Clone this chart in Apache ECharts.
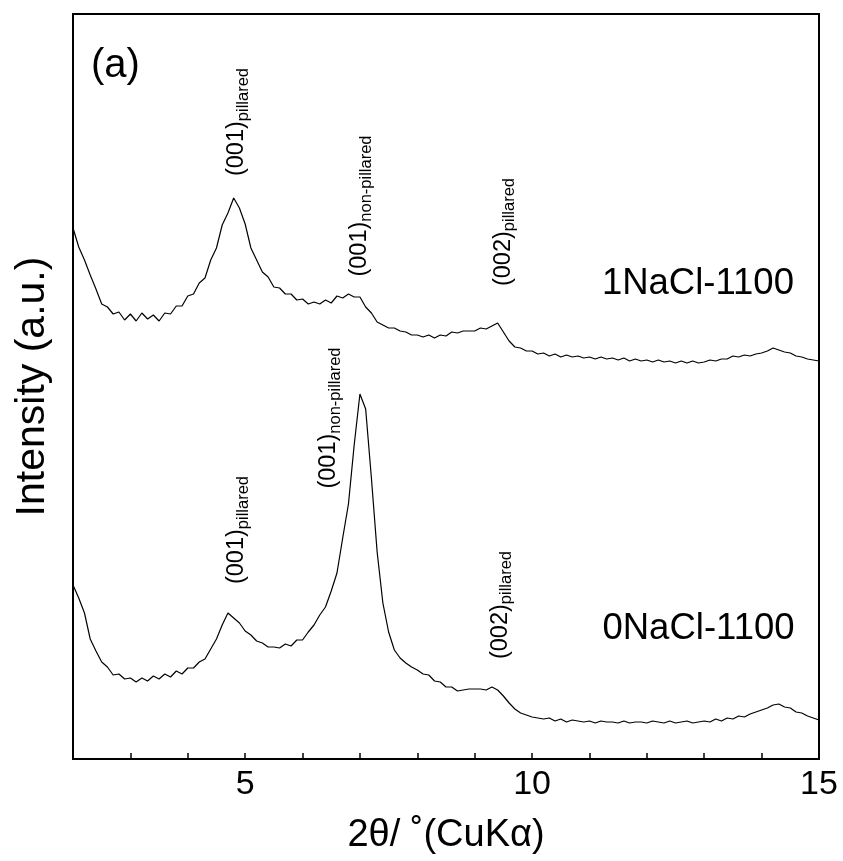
<!DOCTYPE html>
<html>
<head>
<meta charset="utf-8">
<script src="https://cdn.jsdelivr.net/npm/echarts@6/dist/echarts.min.js"></script>
<style>html,body{margin:0;padding:0;background:#fff}#chart{width:843px;height:861px}</style>
</head>
<body>
<div id="chart"></div>
<script>
// 2θ (degrees)
const twoTheta = [
  2.0,2.1,2.2,2.3,2.4,2.5,2.6,2.7,2.8,2.9,
  3.0,3.1,3.2,3.3,3.4,3.5,3.6,3.7,3.8,3.9,
  4.0,4.1,4.2,4.3,4.4,4.5,4.6,4.7,4.8,4.9,
  5.0,5.1,5.2,5.3,5.4,5.5,5.6,5.7,5.8,5.9,
  6.0,6.1,6.2,6.3,6.4,6.5,6.6,6.7,6.8,6.9,
  7.0,7.1,7.2,7.3,7.4,7.5,7.6,7.7,7.8,7.9,
  8.0,8.1,8.2,8.3,8.4,8.5,8.6,8.7,8.8,8.9,
  9.0,9.1,9.2,9.3,9.4,9.5,9.6,9.7,9.8,9.9,
  10.0,10.1,10.2,10.3,10.4,10.5,10.6,10.7,10.8,10.9,
  11.0,11.1,11.2,11.3,11.4,11.5,11.6,11.7,11.8,11.9,
  12.0,12.1,12.2,12.3,12.4,12.5,12.6,12.7,12.8,12.9,
  13.0,13.1,13.2,13.3,13.4,13.5,13.6,13.7,13.8,13.9,
  14.0,14.1,14.2,14.3,14.4,14.5,14.6,14.7,14.8,14.9,
  15.0
];
// 1NaCl-1100 (offset trace, a.u.)
const nacl1 = [
  531,512,499,484,470,455,452,445,447,439,
  445,438,446,440,444,438,446,445,453,453,
  463,465,476,481,499,511,534,546,561,551,
  535,511,499,487,482,472,471,465,465,459,
  460,455,457,455,459,456,463,461,465,462,
  462,452,446,437,434,431,431,428,427,424,
  424,422,424,421,424,423,427,426,428,428,
  428,431,430,433,436,427,418,412,411,408,
  408,405,406,403,405,402,404,402,403,401,
  402,400,402,400,401,399,401,398,400,398,
  399,397,399,397,398,396,398,396,398,396,
  397,399,398,400,400,403,402,404,403,405,
  406,408,411,409,407,406,403,402,400,399,
  398
];
// 0NaCl-1100 (a.u.)
const nacl0 = [
  174,161,146,120,108,97,92,84,85,80,
  81,77,81,78,83,80,85,82,88,85,
  91,91,97,100,110,120,134,146,141,136,
  128,124,118,116,112,112,111,115,113,119,
  119,127,134,144,152,168,186,221,255,314,
  365,350,281,207,156,127,109,101,96,92,
  89,85,84,78,77,72,72,68,69,70,
  70,70,69,72,69,63,56,50,46,44,
  42,41,40,41,38,40,37,39,38,37,
  38,36,38,37,37,36,38,36,37,37,
  36,38,37,36,38,36,37,38,36,37,
  38,37,40,38,41,40,43,42,45,47,
  49,51,54,55,52,51,47,46,43,41,
  39
];
const xTickLabels = [5, 10, 15];
const sampleNames = ['1NaCl-1100', '0NaCl-1100'];
// peak annotations: [main, subscript, 2θ, intensity]
const peaks1 = [['(001)', 'pillared', 4.88, 637], ['(001)', 'non-pillared', 7.02, 553], ['(002)', 'pillared', 9.52, 527]];
const peaks0 = [['(001)', 'pillared', 4.88, 229], ['(001)', 'non-pillared', 6.48, 341], ['(002)', 'pillared', 9.47, 154]];
const nameSpots = [[12.89, 475], [12.9, 130]];

const FONT = 'Liberation Sans, Arial, Helvetica, sans-serif';
const rich = {
  m: { fontSize: 23.5, lineHeight: 27, verticalAlign: 'top', fontFamily: FONT, color: '#000' },
  s: { fontSize: 16.5, lineHeight: 17, verticalAlign: 'bottom', fontFamily: FONT, color: '#000' }
};
function peakMarks(list) {
  return list.map(p => ({
    coord: [p[2], p[3]], symbolSize: 0,
    label: { show: true, position: 'inside', rotate: 90, formatter: '{m|' + p[0] + '}{s|' + p[1] + '}', rich: rich, align: 'center', verticalAlign: 'middle' }
  }));
}
function nameMark(i) {
  return {
    coord: nameSpots[i], symbolSize: 0,
    label: { show: true, position: 'inside', formatter: sampleNames[i], fontSize: 36.5, fontFamily: FONT, color: '#000' }
  };
}
const chart = echarts.init(document.getElementById('chart'), null, { renderer: 'canvas' });
chart.setOption({
  animation: false,
  backgroundColor: '#fff',
  title: { text: '(a)', left: 91, top: 46, padding: 0, textStyle: { fontSize: 40, fontWeight: 'normal', fontFamily: FONT, color: '#000' } },
  grid: { left: 73, right: 24, top: 14, bottom: 102, show: true, borderColor: '#000', borderWidth: 2, backgroundColor: 'transparent' },
  xAxis: {
    type: 'value', min: 2, max: 15, interval: 1,
    name: '2θ/ ˚(CuKα)', nameLocation: 'middle', nameGap: 58,
    nameTextStyle: { fontSize: 38, fontFamily: FONT, color: '#000' },
    axisLine: { show: false },
    axisTick: { show: true, inside: true, length: 6, lineStyle: { color: '#000', width: 1.5 } },
    axisLabel: { fontSize: 34, fontFamily: FONT, color: '#000', margin: 9, showMaxLabel: true,
      formatter: v => (xTickLabels.indexOf(v) >= 0 ? String(v) : '') },
    splitLine: { show: false }
  },
  yAxis: {
    type: 'value', min: 0, max: 745,
    name: 'Intensity (a.u.)', nameLocation: 'middle', nameGap: 20,
    nameTextStyle: { fontSize: 41, fontFamily: FONT, color: '#000' },
    axisLine: { show: false }, axisTick: { show: false }, axisLabel: { show: false }, splitLine: { show: false }
  },
  series: [
    {
      type: 'line', name: sampleNames[0], showSymbol: false, silent: true,
      lineStyle: { color: '#000', width: 1.2 },
      data: twoTheta.map((x, i) => [x, nacl1[i]]),
      markPoint: { symbol: 'circle', symbolSize: 0, silent: true, data: peakMarks(peaks1).concat([nameMark(0)]) }
    },
    {
      type: 'line', name: sampleNames[1], showSymbol: false, silent: true,
      lineStyle: { color: '#000', width: 1.2 },
      data: twoTheta.map((x, i) => [x, nacl0[i]]),
      markPoint: { symbol: 'circle', symbolSize: 0, silent: true, data: peakMarks(peaks0).concat([nameMark(1)]) }
    }
  ]
});
</script>
</body>
</html>
